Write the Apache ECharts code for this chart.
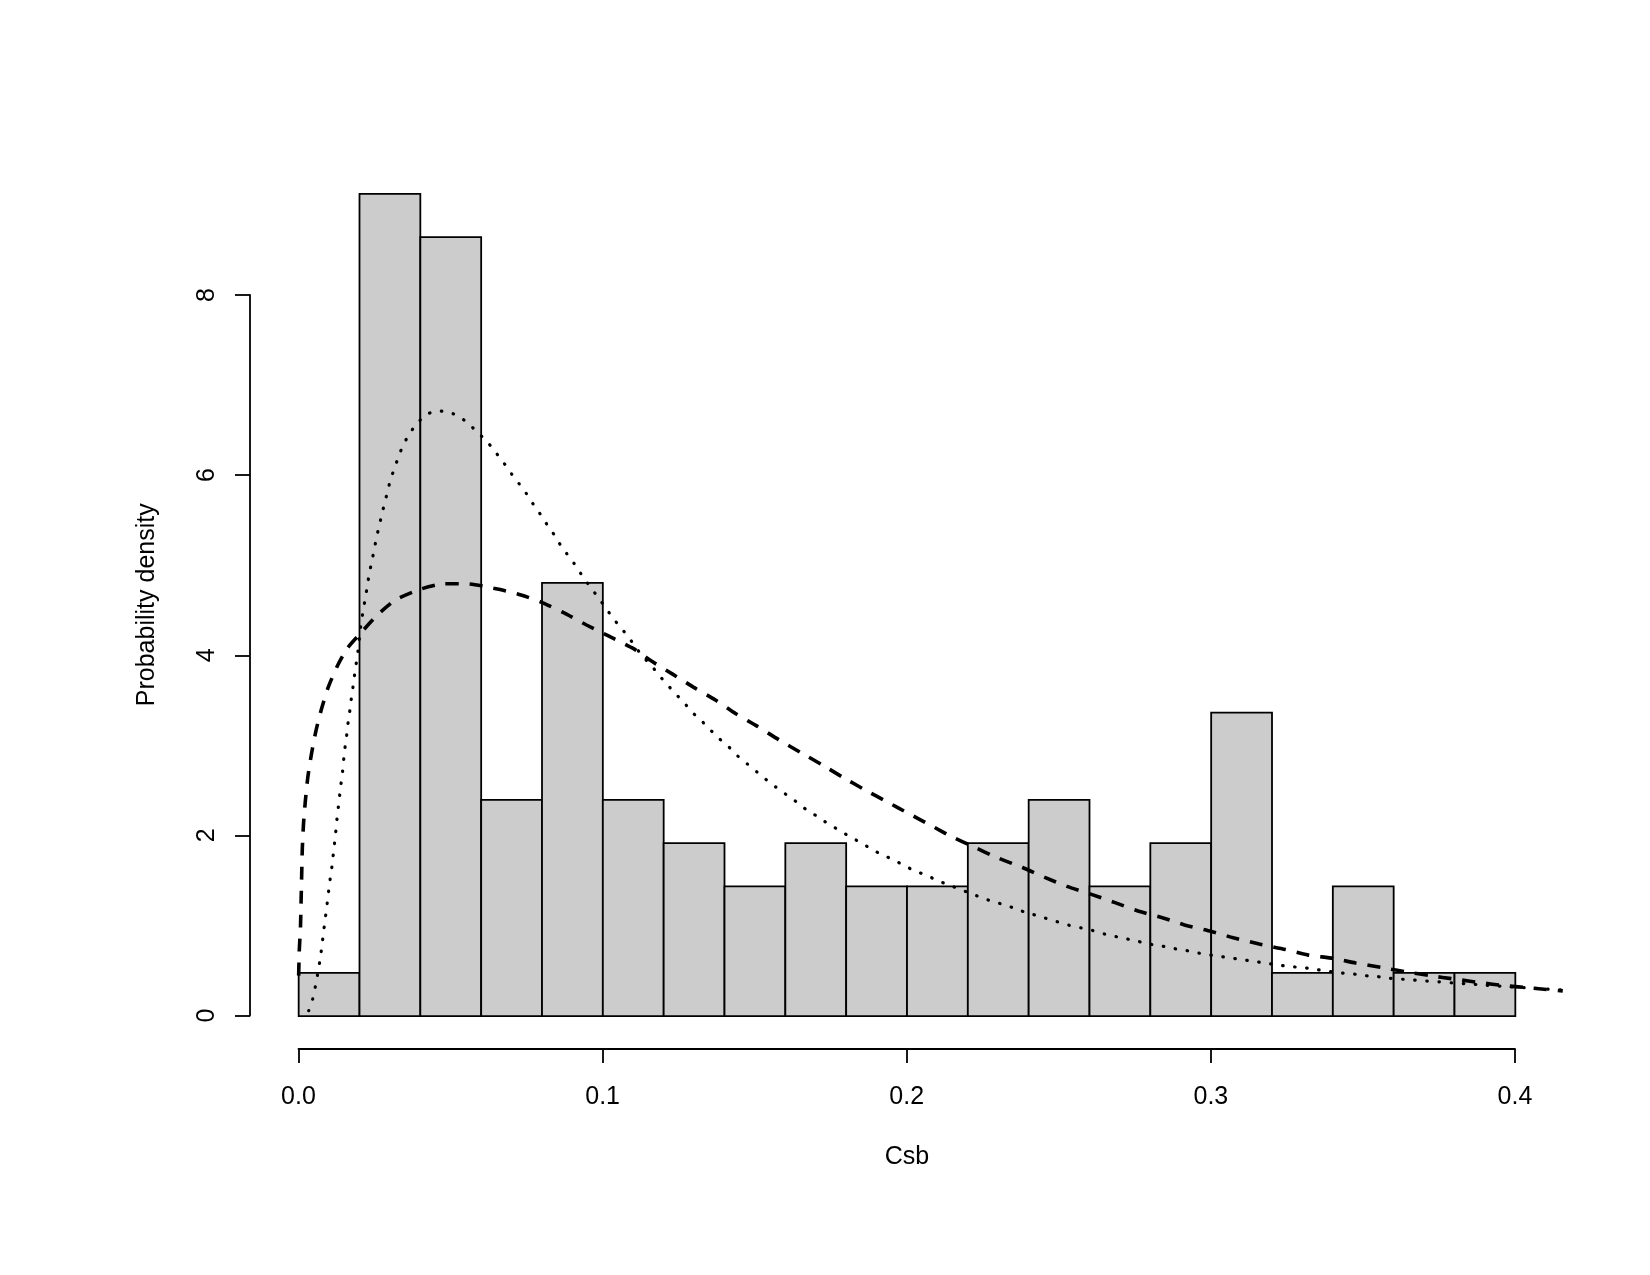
<!DOCTYPE html>
<html>
<head>
<meta charset="utf-8">
<script src="https://cdn.jsdelivr.net/npm/echarts@6/dist/echarts.min.js"></script>
<style>
  html, body { margin: 0; padding: 0; background: #fff; }
  #chart { width: 1650px; height: 1275px; }
</style>
</head>
<body>
<div id="chart"></div>
<script>
// histogram of Csb (bin edges and densities)
var binEdges = [0, 0.02, 0.04, 0.06, 0.08, 0.10, 0.12, 0.14, 0.16, 0.18, 0.20,
  0.22, 0.24, 0.26, 0.28, 0.30, 0.32, 0.34, 0.36, 0.38, 0.40]
var densities = [0.48, 9.13, 8.65, 2.40, 4.81, 2.40, 1.92, 1.44, 1.92, 1.44,
  1.44, 1.92, 2.40, 1.44, 1.92, 3.37, 0.48, 1.44, 0.48, 0.48]

// fitted density, dashed curve
var dashedCurve = [
  [0.0000, 0.45], [0.0002, 0.73], [0.0006, 0.99], [0.0008, 1.28], [0.0010, 1.58],
  [0.0012, 1.86], [0.0016, 2.14], [0.0022, 2.39], [0.0030, 2.65], [0.0042, 2.91],
  [0.0057, 3.17], [0.0075, 3.41], [0.0097, 3.65], [0.0126, 3.88], [0.0159, 4.08],
  [0.0203, 4.25], [0.0258, 4.45], [0.0318, 4.62], [0.0400, 4.74], [0.0477, 4.80],
  [0.0554, 4.80], [0.0641, 4.75], [0.0718, 4.69], [0.0795, 4.60], [0.0871, 4.48],
  [0.0948, 4.34], [0.1025, 4.21], [0.1101, 4.08], [0.1156, 3.95], [0.1228, 3.80],
  [0.1299, 3.65], [0.1370, 3.51], [0.1436, 3.36], [0.1507, 3.22], [0.1578, 3.07],
  [0.1649, 2.93], [0.1721, 2.79], [0.1790, 2.65], [0.1863, 2.51], [0.1934, 2.38],
  [0.2005, 2.25], [0.2077, 2.12], [0.2148, 1.99], [0.2219, 1.88], [0.2296, 1.76],
  [0.2380, 1.65], [0.2453, 1.54], [0.2526, 1.44], [0.2599, 1.36], [0.2684, 1.26],
  [0.2757, 1.17], [0.2842, 1.09], [0.2915, 1.01], [0.3000, 0.94], [0.3073, 0.87],
  [0.3158, 0.80], [0.3244, 0.74], [0.3317, 0.68], [0.3402, 0.64], [0.3475, 0.59],
  [0.3560, 0.54], [0.3645, 0.49], [0.3718, 0.45], [0.3803, 0.41], [0.3888, 0.37],
  [0.3961, 0.34], [0.4058, 0.31], [0.4156, 0.28]
]

// fitted density, dotted curve
var dottedCurve = [
  [0.0033, 0.06], [0.0046, 0.19], [0.0055, 0.33], [0.0062, 0.46], [0.0069, 0.60],
  [0.0075, 0.74], [0.0080, 0.88], [0.0085, 1.02], [0.0090, 1.15], [0.0095, 1.29],
  [0.0100, 1.43], [0.0105, 1.56], [0.0111, 1.70], [0.0115, 1.84], [0.0120, 1.98],
  [0.0124, 2.12], [0.0128, 2.26], [0.0133, 2.39], [0.0137, 2.53], [0.0143, 2.67],
  [0.0147, 2.81], [0.0151, 2.95], [0.0157, 3.09], [0.0161, 3.22], [0.0167, 3.36],
  [0.0172, 3.50], [0.0178, 3.64], [0.0183, 3.77], [0.0189, 3.91], [0.0195, 4.05],
  [0.0204, 4.33], [0.0210, 4.46], [0.0217, 4.60], [0.0224, 4.74], [0.0230, 4.87],
  [0.0238, 5.01], [0.0246, 5.14], [0.0254, 5.28], [0.0263, 5.42], [0.0272, 5.55],
  [0.0282, 5.69], [0.0292, 5.82], [0.0302, 5.96], [0.0316, 6.09], [0.0329, 6.22],
  [0.0345, 6.35], [0.0365, 6.47], [0.0389, 6.58], [0.0420, 6.68], [0.0457, 6.72],
  [0.0499, 6.70], [0.0535, 6.64], [0.0567, 6.55], [0.0595, 6.46], [0.0624, 6.36],
  [0.0650, 6.25], [0.0675, 6.14], [0.0700, 6.02], [0.0725, 5.91], [0.0749, 5.80],
  [0.0772, 5.68], [0.0795, 5.57], [0.0818, 5.45], [0.0841, 5.34], [0.0863, 5.22],
  [0.0887, 5.11], [0.0911, 5.00], [0.0934, 4.88], [0.0958, 4.77], [0.0982, 4.66],
  [0.1006, 4.55], [0.1031, 4.43], [0.1057, 4.32], [0.1082, 4.22], [0.1107, 4.10],
  [0.1132, 3.99], [0.1160, 3.89], [0.1186, 3.78], [0.1212, 3.68], [0.1239, 3.58],
  [0.1267, 3.48], [0.1295, 3.37], [0.1324, 3.28], [0.1353, 3.18], [0.1383, 3.08],
  [0.1414, 2.99], [0.1443, 2.89], [0.1475, 2.80], [0.1507, 2.71], [0.1539, 2.62],
  [0.1570, 2.54], [0.1603, 2.46], [0.1636, 2.38], [0.1670, 2.29], [0.1704, 2.22],
  [0.1739, 2.14], [0.1774, 2.07], [0.1809, 2.00], [0.1846, 1.93], [0.1881, 1.86],
  [0.1918, 1.79], [0.1954, 1.74], [0.1991, 1.67], [0.2028, 1.61], [0.2066, 1.56],
  [0.2104, 1.50], [0.2142, 1.45], [0.2180, 1.40], [0.2219, 1.35], [0.2257, 1.30],
  [0.2296, 1.26], [0.2335, 1.22], [0.2374, 1.17], [0.2413, 1.13], [0.2453, 1.09],
  [0.2492, 1.05], [0.2532, 1.01], [0.2572, 0.98], [0.2611, 0.95], [0.2651, 0.91],
  [0.2691, 0.88], [0.2733, 0.85], [0.2773, 0.82], [0.2812, 0.79], [0.2852, 0.77],
  [0.2893, 0.74], [0.2933, 0.72], [0.2973, 0.69], [0.3015, 0.67], [0.3055, 0.65],
  [0.3095, 0.63], [0.3136, 0.61], [0.3176, 0.59], [0.3216, 0.57], [0.3258, 0.55],
  [0.3299, 0.54], [0.3340, 0.52], [0.3381, 0.50], [0.3422, 0.48], [0.3463, 0.47],
  [0.3505, 0.45], [0.3545, 0.44], [0.3586, 0.42], [0.3628, 0.41], [0.3667, 0.40],
  [0.3708, 0.39], [0.3749, 0.38], [0.3791, 0.37], [0.3833, 0.36], [0.3876, 0.35],
  [0.3918, 0.34], [0.3961, 0.33], [0.4058, 0.31], [0.4156, 0.29]
]

var xTicks = { min: 0, max: 0.4, interval: 0.1 }
var yTicks = { min: 0, max: 8, interval: 2 }

var FONT = '"Liberation Sans", Arial, Helvetica, sans-serif'

var histData = densities.map(function (d, i) {
  return [binEdges[i], binEdges[i + 1], d]
})

var chart = echarts.init(document.getElementById('chart'))

chart.setOption({
  animation: false,
  backgroundColor: '#ffffff',
  textStyle: { fontFamily: FONT, color: '#000' },
  grid: [
    // plotting region
    { left: 250, right: 86, top: 160.5, bottom: 226 },
    // x axis (spans 0 .. 0.4 only)
    { left: 298.5, right: 135, top: 160.5, bottom: 226 },
    // y axis (spans 0 .. 8 only)
    { left: 250, right: 86, top: 295, bottom: 259.5 }
  ],
  xAxis: [
    {
      gridIndex: 0, type: 'value', min: -0.016, max: 0.416,
      axisLine: { show: false }, axisTick: { show: false },
      axisLabel: { show: false }, splitLine: { show: false },
      name: 'Csb', nameLocation: 'middle', nameGap: 96,
      nameTextStyle: { fontSize: 25, fontFamily: FONT, color: '#000' }
    },
    {
      gridIndex: 1, type: 'value', min: xTicks.min, max: xTicks.max, interval: xTicks.interval,
      axisLine: { show: true, onZero: false, lineStyle: { color: '#000', width: 1.8 } },
      axisTick: { show: true, inside: false, length: 14, lineStyle: { color: '#000', width: 1.8 } },
      axisLabel: {
        show: true, margin: 36, fontSize: 25, fontFamily: FONT, color: '#000',
        formatter: function (v) { return v.toFixed(1) }
      },
      splitLine: { show: false }
    },
    {
      gridIndex: 2, type: 'value', show: false, min: -0.016, max: 0.416
    }
  ],
  yAxis: [
    {
      gridIndex: 0, type: 'value', min: -0.365, max: 9.5,
      axisLine: { show: false }, axisTick: { show: false },
      axisLabel: { show: false }, splitLine: { show: false },
      name: 'Probability density', nameLocation: 'middle', nameGap: 90,
      nameTextStyle: { fontSize: 25, fontFamily: FONT, color: '#000' }
    },
    {
      gridIndex: 1, type: 'value', show: false, min: 0, max: 1
    },
    {
      gridIndex: 2, type: 'value', min: yTicks.min, max: yTicks.max, interval: yTicks.interval,
      axisLine: { show: true, onZero: false, lineStyle: { color: '#000', width: 1.8 } },
      axisTick: { show: true, inside: false, length: 15, lineStyle: { color: '#000', width: 1.8 } },
      axisLabel: {
        show: true, rotate: 90, margin: 30, fontSize: 25, fontFamily: FONT, color: '#000'
      },
      splitLine: { show: false }
    }
  ],
  series: [
    {
      name: 'hist',
      type: 'custom',
      xAxisIndex: 0,
      yAxisIndex: 0,
      data: histData,
      encode: { x: [0, 1], y: 2 },
      renderItem: function (params, api) {
        var p0 = api.coord([api.value(0), 0])
        var p1 = api.coord([api.value(1), api.value(2)])
        return {
          type: 'rect',
          shape: { x: p0[0], y: p1[1], width: p1[0] - p0[0], height: p0[1] - p1[1] },
          style: { fill: '#cccccc', stroke: '#000000', lineWidth: 1.8 }
        }
      },
      z: 1
    },
    {
      name: 'dashed',
      type: 'line',
      xAxisIndex: 0,
      yAxisIndex: 0,
      data: dashedCurve,
      showSymbol: false,
      smooth: 0.2,
      lineStyle: { color: '#000', width: 3.6, type: [13, 11], cap: 'butt' },
      z: 3
    },
    {
      name: 'dotted',
      type: 'line',
      xAxisIndex: 0,
      yAxisIndex: 0,
      data: dottedCurve,
      showSymbol: false,
      smooth: 0.2,
      lineStyle: { color: '#000', width: 3.2, type: [0.5, 11.6], cap: 'round' },
      z: 3
    }
  ]
})
</script>
</body>
</html>
